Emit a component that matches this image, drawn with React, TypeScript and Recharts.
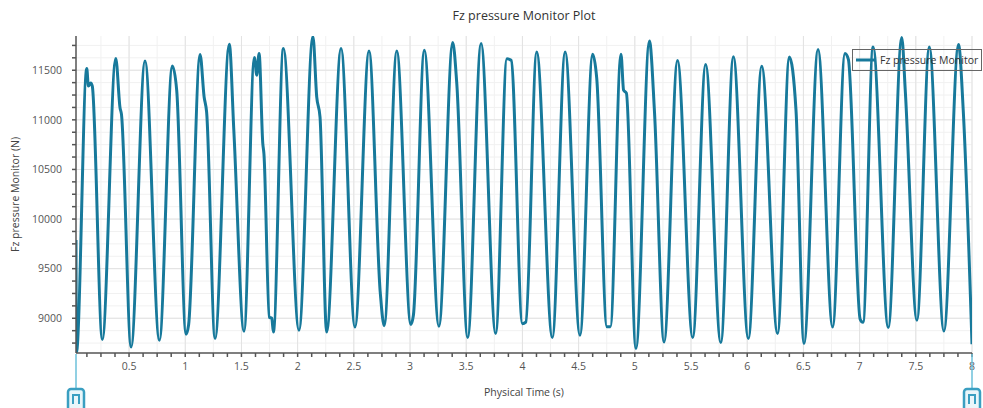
import React from 'react';
import { LineChart, Line, XAxis, YAxis, CartesianGrid, Legend } from 'recharts';

// Fz pressure monitor samples: physical time (s) and force (N)
const times = [
  0.028, 0.032, 0.124, 0.138, 0.159, 0.173,
  0.262, 0.382, 0.420, 0.432,
  0.518, 0.642,
  0.770, 0.885, 0.924,
  1.007, 1.030, 1.132, 1.168, 1.190,
  1.265, 1.392, 1.432,
  1.523, 1.615, 1.636, 1.657, 1.690, 1.700,
  1.748, 1.770, 1.784, 1.873,
  2.012, 2.136, 2.170, 2.199,
  2.258, 2.386,
  2.510, 2.635,
  2.735, 2.770, 2.882,
  3.007, 3.030, 3.127,
  3.257, 3.380, 3.416,
  3.513, 3.632,
  3.762, 3.862, 3.900,
  4.000, 4.030, 4.127,
  4.266, 4.380,
  4.512, 4.625, 4.661,
  4.752, 4.782, 4.877, 4.900, 4.925,
  5.010, 5.130, 5.175,
  5.260, 5.380,
  5.515, 5.630,
  5.765, 5.877,
  6.010, 6.129,
  6.270, 6.375, 6.434,
  6.505, 6.630,
  6.760, 6.870, 6.900,
  7.005, 7.030, 7.120,
  7.255, 7.375, 7.407,
  7.510, 7.620,
  7.750, 7.880, 7.922,
  8.000,
];

const fzPressure = [
  9790, 8660, 11517, 11340, 11372, 11340,
  8786, 11618, 11120, 11060,
  8711, 11594,
  8778, 11543, 11298,
  8840, 8935, 11658, 11230, 11080,
  8796, 11762, 10900,
  8869, 11628, 11450, 11668, 10760, 10660,
  9010, 9000, 8862, 11718,
  8879, 11840, 11228, 11030,
  8862, 11718,
  8912, 11694,
  9260, 8925, 11694,
  8937, 9030, 11702,
  8920, 11780, 11366,
  8806, 11770,
  8846, 11615, 11600,
  8945, 8960, 11684,
  8806, 11684,
  8829, 11660, 11420,
  8915, 8915, 11662, 11300, 11270,
  8695, 11795, 11080,
  8761, 11597,
  8806, 11558,
  8755, 11637,
  8796, 11540,
  8846, 11634, 11097,
  8745, 11709,
  8912, 11668, 11610,
  8990, 8960, 11735,
  8906, 11830, 11280,
  8980, 11735,
  8872, 11759, 11097,
  8738,
];

const xLabels = [0.5, 1, 1.5, 2, 2.5, 3, 3.5, 4, 4.5, 5, 5.5, 6, 6.5, 7, 7.5, 8];
const yLabels = [9000, 9500, 10000, 10500, 11000, 11500];
const xDomain = [0.028, 8];
const yDomain = [8650, 11845];
const xMinorStep = 0.125;
const yMinorStep = 125;

const data = times.map((t, i) => ({ t, fz: fzPressure[i] }));

const steps = (from: number, to: number, step: number) => {
  const out: number[] = [];
  for (let v = from; v <= to + 1e-9; v += step) out.push(Math.round(v * 1000) / 1000);
  return out;
};

const xTicks = steps(xMinorStep, 8, xMinorStep);
const yTicks = steps(8750, 11750, yMinorStep);
const xGridMinor = steps(0.25, 8, 0.25);

const FONT = '"Open Sans", "Noto Sans", sans-serif';
const FS = 10.5;
const LINE = '#17799b';
const AXIS = '#555';

const renderLegend = () => (
  <div
    style={{
      width: 128, height: 20, border: '1px solid #666', display: 'flex', alignItems: 'center',
      fontFamily: FONT, fontSize: FS, color: '#333', whiteSpace: 'nowrap',
    }}
  >
    <svg width={24} height={6} style={{ marginLeft: 3, flex: 'none' }}>
      <line x1={0} y1={3} x2={20} y2={3} stroke={LINE} strokeWidth={3} />
    </svg>
    <span>Fz pressure Monitor</span>
  </div>
);

const SliderHandle = ({ x }: { x: number }) => (
  <g>
    <line x1={x} y1={354} x2={x} y2={389} stroke="#6cc0da" strokeWidth={1.5} />
    <rect x={x - 8} y={389} width={16} height={24} rx={3} fill="#eaf6fa" stroke="#3a9fc1" strokeWidth={2.5} />
    <path d={`M${x - 3} 404 V395 H${x + 3} V404`} fill="none" stroke="#3a9fc1" strokeWidth={2} />
  </g>
);

export default function App() {
  return (
    <div style={{ position: 'absolute', left: 0, top: 0, width: 983, height: 408, background: '#fff', overflow: 'hidden' }}>
      <div
        style={{
          position: 'absolute', left: 76, width: 896, top: 7, textAlign: 'center',
          fontFamily: FONT, fontSize: 12.5, color: '#333',
        }}
      >
        Fz pressure Monitor Plot
      </div>
      <LineChart width={983} height={408} data={data} margin={{ top: 36, right: 11, left: 0, bottom: 0 }}>
        <CartesianGrid stroke="#f1f1f1" strokeWidth={1} verticalValues={xGridMinor} horizontalValues={yTicks} />
        <CartesianGrid stroke="#e2e2e2" strokeWidth={1} verticalValues={xLabels} horizontalValues={yLabels} />
        <XAxis
          type="number"
          dataKey="t"
          domain={xDomain}
          allowDataOverflow
          ticks={xTicks}
          interval={0}
          height={55}
          tickSize={4}
          tickMargin={6}
          stroke={AXIS}
          strokeWidth={1.5}
          tickFormatter={(v: number) => (xLabels.includes(v) ? String(v) : '')}
          tick={{ fill: AXIS, fontSize: FS, fontFamily: FONT }}
          label={{ value: 'Physical Time (s)', position: 'insideBottom', offset: 12, fill: '#444', fontSize: FS, fontFamily: FONT }}
        />
        <YAxis
          type="number"
          domain={yDomain}
          allowDataOverflow
          ticks={yTicks}
          interval={0}
          width={76}
          tickSize={4}
          tickMargin={10}
          stroke={AXIS}
          strokeWidth={1.5}
          tickFormatter={(v: number) => (yLabels.includes(v) ? String(v) : '')}
          tick={{ fill: AXIS, fontSize: FS, fontFamily: FONT }}
          label={{
            value: 'Fz pressure Monitor (N)', angle: -90, position: 'insideLeft', offset: 15,
            fill: '#444', fontSize: FS, fontFamily: FONT, style: { textAnchor: 'middle' },
          }}
        />
        <Legend
          content={renderLegend}
          layout="vertical"
          align="center"
          verticalAlign="middle"
          wrapperStyle={{ position: 'absolute', left: 852, top: 49, width: 130 }}
        />
        <Line
          type="monotone"
          dataKey="fz"
          name="Fz pressure Monitor"
          stroke={LINE}
          strokeWidth={3}
          dot={false}
          isAnimationActive={false}
        />
      </LineChart>
      <svg width={983} height={408} style={{ position: 'absolute', left: 0, top: 0, pointerEvents: 'none' }}>
        <SliderHandle x={76} />
        <SliderHandle x={972} />
      </svg>
    </div>
  );
}
